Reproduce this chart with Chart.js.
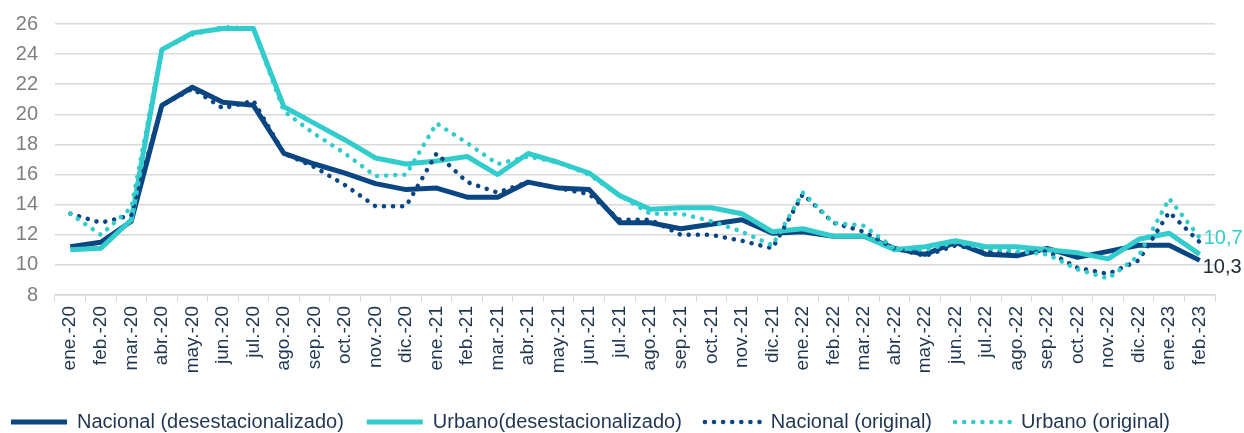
<!DOCTYPE html>
<html lang="es">
<head>
<meta charset="utf-8">
<title>Tasa de desocupación</title>
<script src="https://cdn.jsdelivr.net/npm/chart.js@4.4.1/dist/chart.umd.min.js"></script>
<style>
  html, body { margin: 0; padding: 0; background: #fff; }
  #wrap { width: 1244px; height: 433px; }
</style>
</head>
<body>
<div id="wrap"><canvas id="grafico" width="1244" height="433"></canvas></div>
<script>
// Meses
const meses = [
  'ene.-20', 'feb.-20', 'mar.-20', 'abr.-20', 'may.-20', 'jun.-20', 'jul.-20', 'ago.-20', 'sep.-20', 'oct.-20', 'nov.-20', 'dic.-20',
  'ene.-21', 'feb.-21', 'mar.-21', 'abr.-21', 'may.-21', 'jun.-21', 'jul.-21', 'ago.-21', 'sep.-21', 'oct.-21', 'nov.-21', 'dic.-21',
  'ene.-22', 'feb.-22', 'mar.-22', 'abr.-22', 'may.-22', 'jun.-22', 'jul.-22', 'ago.-22', 'sep.-22', 'oct.-22', 'nov.-22', 'dic.-22',
  'ene.-23', 'feb.-23'
];

// Series (%)
const nacionalDesest = [11.2, 11.5, 12.9, 20.6, 21.8, 20.8, 20.6, 17.4, 16.7, 16.1, 15.4, 15.0,
  15.1, 14.5, 14.5, 15.5, 15.1, 15.0, 12.8, 12.8, 12.4, 12.7, 13.0, 12.1,
  12.2, 11.9, 11.9, 11.1, 10.7, 11.5, 10.7, 10.6, 11.1, 10.5, 10.9, 11.3,
  11.3, 10.3];
const urbanoDesest = [11.0, 11.1, 13.0, 24.3, 25.4, 25.7, 25.7, 20.5, 19.4, 18.3, 17.1, 16.7,
  16.9, 17.2, 16.0, 17.4, 16.8, 16.1, 14.6, 13.7, 13.8, 13.8, 13.4, 12.2,
  12.4, 11.9, 11.9, 11.0, 11.2, 11.6, 11.2, 11.2, 11.0, 10.8, 10.4, 11.7,
  12.1, 10.7];
const nacionalOrig = [13.4, 12.8, 13.3, 20.6, 21.7, 20.4, 20.9, 17.4, 16.5, 15.3, 13.9, 13.9,
  17.4, 15.5, 14.8, 15.5, 15.1, 14.7, 13.0, 13.0, 12.0, 12.0, 11.6, 11.1,
  14.7, 12.8, 12.2, 11.1, 10.6, 11.3, 10.9, 10.8, 10.9, 9.8, 9.4, 10.3,
  13.5, 11.5];
const urbanoOrig = [13.4, 12.0, 13.8, 24.3, 25.3, 25.8, 25.7, 20.2, 18.7, 17.4, 15.9, 16.0,
  19.4, 18.1, 16.7, 17.2, 16.8, 16.0, 14.6, 13.4, 13.4, 12.9, 12.2, 11.3,
  14.8, 12.8, 12.6, 11.1, 11.0, 11.5, 11.1, 10.9, 10.7, 9.7, 9.1, 10.6,
  14.4, 11.8];

const AZUL = '#0b4682';
const TURQUESA = '#33cccc';
const PUNTEADO = [0.1, 9];
const fuente = '"Liberation Sans", Arial, sans-serif';

// Etiquetas del ultimo valor (10,7 y 10,3)
const etiquetasFinales = {
  id: 'etiquetasFinales',
  afterDatasetsDraw(chart) {
    const ctx = chart.ctx;
    const specs = [
      { ds: 1, color: TURQUESA, dx: 4, dy: -16 },
      { ds: 0, color: '#1a2838', dx: 3, dy: 7 }
    ];
    ctx.save();
    ctx.font = '20px ' + fuente;
    ctx.textBaseline = 'middle';
    ctx.textAlign = 'left';
    specs.forEach(s => {
      const meta = chart.getDatasetMeta(s.ds);
      const pt = meta.data[meta.data.length - 1];
      const valores = chart.data.datasets[s.ds].data;
      const texto = valores[valores.length - 1].toFixed(1).replace('.', ',');
      ctx.fillStyle = s.color;
      ctx.fillText(texto, pt.x + s.dx, pt.y + s.dy);
    });
    ctx.restore();
  }
};

// bajar un poco la leyenda, como en el original
const moverLeyenda = {
  id: 'moverLeyenda',
  afterLayout(chart) {
    const l = chart.legend;
    l.top += 9; l.bottom += 9;
    l.left -= 12; l.right -= 12;
  }
};

const ctx = document.getElementById('grafico').getContext('2d');
new Chart(ctx, {
  type: 'line',
  data: {
    labels: meses,
    datasets: [
      { label: 'Nacional (desestacionalizado)', data: nacionalDesest, borderColor: AZUL, borderWidth: 5, order: 4 },
      { label: 'Urbano(desestacionalizado)', data: urbanoDesest, borderColor: TURQUESA, borderWidth: 5, order: 3 },
      { label: 'Nacional (original)', data: nacionalOrig, borderColor: AZUL, borderWidth: 4.5, borderDash: PUNTEADO, borderCapStyle: 'round', order: 2 },
      { label: 'Urbano (original)', data: urbanoOrig, borderColor: TURQUESA, borderWidth: 4.5, borderDash: PUNTEADO, borderCapStyle: 'round', order: 1 }
    ]
  },
  options: {
    responsive: false,
    animation: false,
    layout: { padding: { top: 10, right: 29, left: 0, bottom: 0 } },
    elements: {
      point: { radius: 0 },
      line: { tension: 0, fill: false, borderJoinStyle: 'round' }
    },
    plugins: {
      tooltip: { enabled: false },
      legend: {
        position: 'bottom',
        align: 'start',
        labels: {
          usePointStyle: true,
          pointStyleWidth: 56,
          padding: 23,
          color: '#1f3550',
          font: { family: fuente, size: 20 },
          generateLabels(chart) {
            return chart.data.datasets.map((ds, i) => ({
              text: ds.label,
              datasetIndex: i,
              pointStyle: 'line',
              strokeStyle: ds.borderColor,
              fillStyle: ds.borderColor,
              lineWidth: ds.borderWidth,
              lineDash: ds.borderDash || [],
              lineCap: ds.borderCapStyle || 'butt',
              fontColor: '#1f3550',
              hidden: false
            }));
          }
        }
      }
    },
    scales: {
      x: {
        offset: true,
        grid: { offset: true, drawOnChartArea: false, drawTicks: true, tickLength: 7, color: '#d9d9d9' },
        border: { color: '#d9d9d9', width: 1.5 },
        ticks: {
          autoSkip: false,
          minRotation: 90,
          maxRotation: 90,
          padding: 4,
          color: '#1f3550',
          font: { family: fuente, size: 19 }
        },
        afterFit(scale) { scale.height = 85; }
      },
      y: {
        min: 8,
        max: 26,
        grid: { color: '#d9d9d9', lineWidth: 1.5, drawTicks: false },
        border: { display: false },
        ticks: {
          stepSize: 2,
          padding: 17,
          color: '#7f7f7f',
          // lineHeight bajo: el margen superior del eje queda en ~24 px
          font: { family: fuente, size: 20, lineHeight: 0.7 }
        },
        afterFit(scale) { scale.width = 55; }
      }
    }
  },
  plugins: [etiquetasFinales, moverLeyenda]
});
</script>
</body>
</html>
